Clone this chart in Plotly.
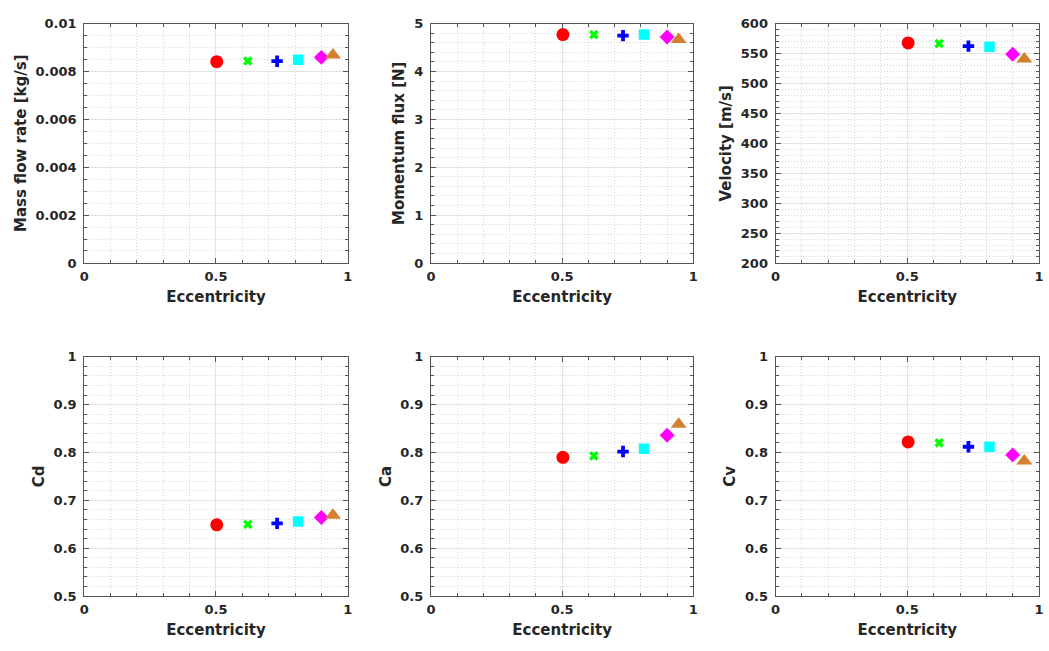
import plotly.graph_objects as go

# Eccentricity of each nozzle case
eccentricity = [0.503, 0.621, 0.732, 0.812, 0.900, 0.944]

# Measured quantities per case
mass_flow = [0.00841, 0.00844, 0.00843, 0.00849, 0.00859, 0.00869]
momentum_flux = [4.77, 4.77, 4.75, 4.77, 4.72, 4.67]
velocity = [567.8, 566.8, 562.4, 561.3, 548.9, 540.7]
cd = [0.649, 0.650, 0.652, 0.656, 0.664, 0.669]
ca = [0.790, 0.793, 0.802, 0.808, 0.836, 0.859]
cv = [0.822, 0.820, 0.812, 0.812, 0.795, 0.782]

# Marker style per case
symbols = ["circle", "x", "cross", "square", "diamond", "triangle-up"]
colors = ["#FF0000", "#00FF00", "#0000FF", "#00FFFF", "#FF00FF", "#D4802F"]
sizes = [13, 8.5, 9.5, 10.5, 11.5, 14]

mass_ticks = [0, 0.002, 0.004, 0.006, 0.008, 0.01]
mass_ticktext = ["0", "0.002", "0.004", "0.006", "0.008", "0.01"]

panels = [
    dict(y=mass_flow, title="Mass flow rate [kg/s]", rng=[0, 0.01], dtick=0.002, minor=0.0005),
    dict(y=momentum_flux, title="Momentum flux [N]", rng=[0, 5], dtick=1, minor=0.2),
    dict(y=velocity, title="Velocity [m/s]", rng=[200, 600], dtick=50, minor=10),
    dict(y=cd, title="Cd", rng=[0.5, 1], dtick=0.1, minor=0.02),
    dict(y=ca, title="Ca", rng=[0.5, 1], dtick=0.1, minor=0.02),
    dict(y=cv, title="Cv", rng=[0.5, 1], dtick=0.1, minor=0.02),
]

W, H = 1049, 651
col_px = [(80, 346), (430, 695), (778, 1044)]
row_px = [(17, 262), (358, 603)]

TEXT = "#262626"
AXIS = "#555555"
font_tick = dict(family="DejaVu Sans", size=13, color=TEXT, weight="bold")
font_title = dict(family="DejaVu Sans", size=15, color=TEXT, weight="bold")

fig = go.Figure()
layout = {}
for i, p in enumerate(panels):
    r, c = divmod(i, 3)
    n = "" if i == 0 else str(i + 1)
    xa, ya = "x" + n, "y" + n
    for k in range(len(eccentricity)):
        fig.add_trace(go.Scatter(
            x=[eccentricity[k]], y=[p["y"][k]], mode="markers",
            marker=dict(symbol=symbols[k], color=colors[k], size=sizes[k], line=dict(width=0)),
            xaxis=xa, yaxis=ya, showlegend=False, hoverinfo="x+y",
        ))
    x0, x1 = col_px[c]
    y0, y1 = row_px[r]
    common = dict(
        showline=True, linecolor=AXIS, linewidth=1, mirror="ticks",
        ticks="inside", ticklen=5, tickcolor=AXIS, tickwidth=1,
        showgrid=True, gridcolor="#e3e3e3", gridwidth=1,
        zeroline=False, tickfont=font_tick, title_font=font_title,
    )
    minor_style = dict(showgrid=True, gridcolor="#d6d6d6", griddash="1px,2px",
                       ticks="inside", ticklen=3, tickcolor=AXIS)
    layout["xaxis" + n] = dict(
        common, domain=[x0 / W, x1 / W], range=[0, 1], anchor=ya,
        tickvals=[0, 0.5, 1], ticktext=["0", "0.5", "1"], ticklabelstandoff=1,
        minor=dict(minor_style, dtick=0.1, tick0=0),
        title=dict(text="Eccentricity", standoff=8),
    )
    if i == 0:
        ytick = dict(tickvals=mass_ticks, ticktext=mass_ticktext)
    else:
        ytick = dict(dtick=p["dtick"], tick0=p["rng"][0])
    layout["yaxis" + n] = dict(
        common, domain=[1 - y1 / H, 1 - y0 / H], range=p["rng"], anchor=xa,
        ticklabelstandoff=4,
        minor=dict(minor_style, dtick=p["minor"], tick0=p["rng"][0]),
        title=dict(text=p["title"], standoff=5),
        **ytick,
    )

fig.update_layout(
    width=W, height=H, margin=dict(l=0, r=0, t=0, b=0),
    paper_bgcolor="white", plot_bgcolor="white",
    **layout,
)
fig.write_html("out.html")
